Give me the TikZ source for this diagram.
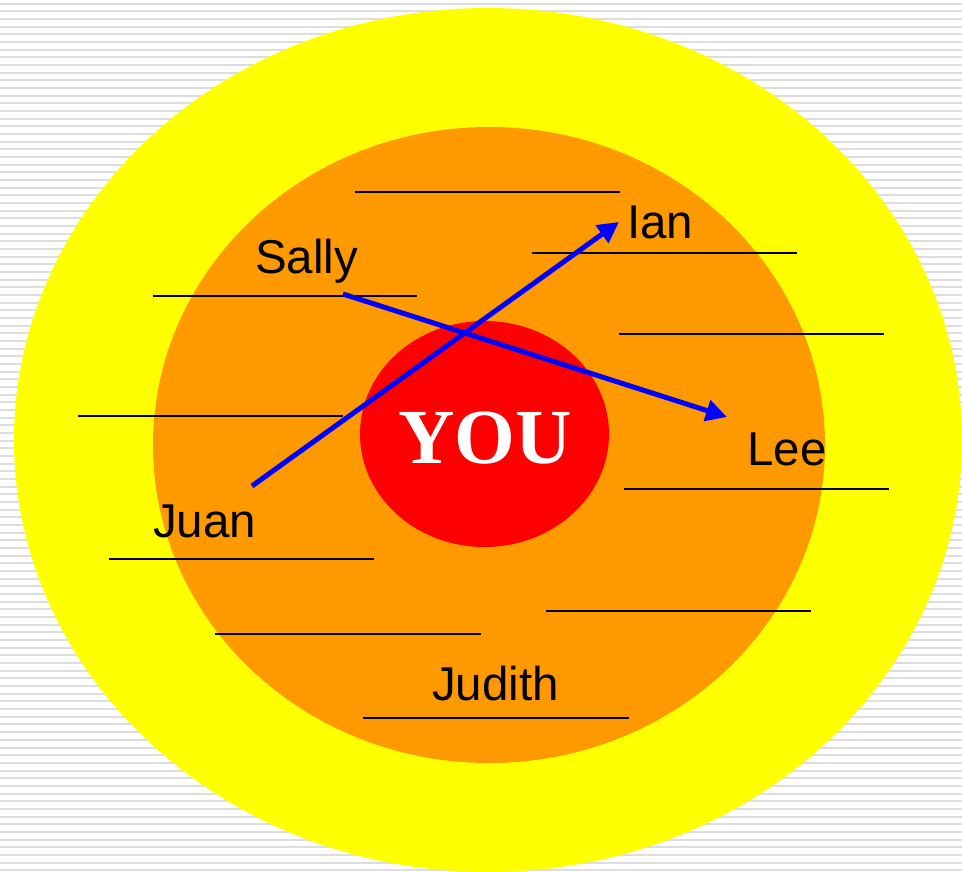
\documentclass[tikz,border=0pt]{standalone}
\usepackage{fontspec}
\setmainfont{Liberation Sans}
\newfontfamily\youfont{Liberation Serif}
\usetikzlibrary{arrows.meta,shapes.geometric}
\definecolor{ring1}{HTML}{FFFF00}
\definecolor{ring2}{HTML}{FF9900}
\definecolor{core}{HTML}{FF0000}
\definecolor{stripe}{HTML}{DDDDDD}
\definecolor{arrblue}{HTML}{0000FF}
\tikzset{
  blank/.style={draw=black, line width=2.2pt},
  lbl/.style={anchor=base west, inner sep=0pt, font=\fontsize{47.5}{52}\selectfont},
  linkarrow/.style={draw=arrblue, line width=5pt, -{Triangle[length=21pt,width=21pt]}},
}
\begin{document}
\begin{tikzpicture}[x=1pt,y=-1pt]
\useasboundingbox (0,0) rectangle (962,871);
\clip (0,0) rectangle (962,871);
\fill[white] (0,0) rectangle (962,871);
\foreach \k in {0,...,113} {
  \fill[stripe] (0,{2.5+7.67*\k}) rectangle (962,{4.5+7.67*\k});
}
\fill[ring1] (488,440) ellipse [x radius=474, y radius=432];
\fill[ring2] (489,445) ellipse [x radius=336, y radius=318];
\node[ellipse, fill=core, inner sep=0pt, minimum width=249pt, minimum height=226pt] (you) at (484.5,434) {};
\node[anchor=base, inner sep=0pt, text=white, font=\youfont\bfseries\fontsize{78}{82}\selectfont] (youtxt) at (485,463) {YOU};
% blanks
\draw[blank] (355,192) -- (620,192);
\draw[blank] (532,253) -- (797,253);
\draw[blank] (153,296) -- (417,296);
\draw[blank] (619,334) -- (884,334);
\draw[blank] (78,416) -- (343,416);
\draw[blank] (624,489) -- (889,489);
\draw[blank] (109,559) -- (374,559);
\draw[blank] (546,611) -- (811,611);
\draw[blank] (215,634) -- (481,634);
\draw[blank] (363,718) -- (629,718);
% labels
\node[lbl] (sally) at (255,273) {Sally};
\node[lbl] (ian) at (627,238) {Ian};
\node[lbl] (lee) at (747,465) {Lee};
\node[lbl] (juan) at (153,537) {Juan};
\node[lbl] (judith) at (432,700) {Judith};
% arrows
\coordinate (juanstart) at (252,486);
\coordinate (iantip) at (619,222);
\coordinate (sallystart) at (343,294);
\coordinate (leetip) at (727,417);
\draw[linkarrow] (juanstart) -- (iantip);
\draw[linkarrow] (sallystart) -- (leetip);
\end{tikzpicture}
\end{document}
